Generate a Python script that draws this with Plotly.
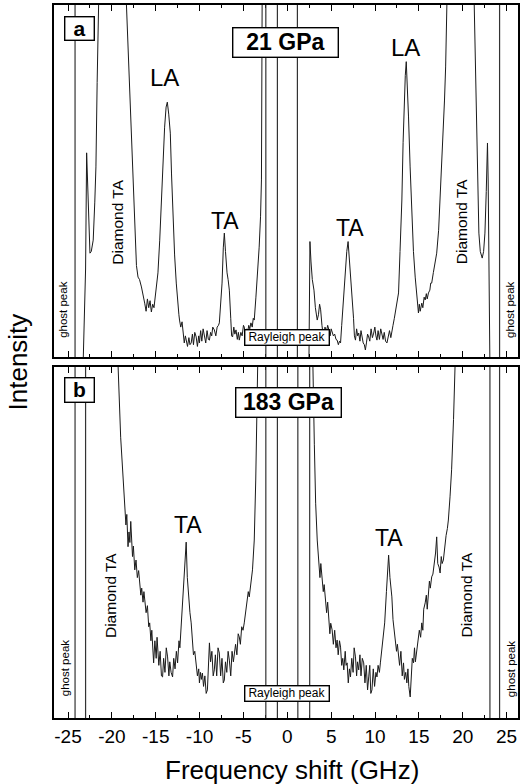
import plotly.graph_objects as go

# ---------------- data (frequency shift in GHz, intensity in arbitrary units) -------------
# panel a: 21 GPa
a_freq = [-23.26, -23.0, -22.88, -22.78, -22.70, -22.60, -22.50, -22.35, -22.13, -21.95, -21.82, -21.68, -21.56, -20.0,
          -18.34, -18.1, -17.93, -17.77, -17.6, -17.39, -17.2, -17.02, -16.85, -16.63, -16.45, -16.26, -16.1, -15.95,
          -15.8, -15.65, -15.50, -15.35, -15.20, -15.05, -14.90, -14.75, -14.55, -14.36, -14.15, -13.99, -13.82, -13.68,
          -13.52, -13.34, -13.20, -13.05, -12.85, -12.66, -12.50, -12.36, -12.29, -12.15, -12.0, -11.91, -11.75, -11.62,
          -11.53, -11.38, -11.22, -11.1, -10.96, -10.82, -10.70, -10.55, -10.39, -10.25, -10.10, -10.02, -9.88, -9.75,
          -9.6, -9.45, -9.30, -9.15, -9.0, -8.88, -8.75, -8.62, -8.50, -8.32, -8.15, -8.0, -7.85, -7.75, -7.60, -7.44,
          -7.30, -7.18, -7.05, -6.96, -6.87, -6.75, -6.61, -6.45, -6.35, -6.24, -6.1, -5.98, -5.85, -5.70, -5.58, -5.48,
          -5.30, -5.15, -5.0, -4.91, -4.75, -4.62, -4.53, -4.40, -4.28, -4.15, -4.0, -3.88, -3.77, -3.58, -3.40, -3.21,
          -3.05, -2.95, -2.87, -2.8, None,
          2.47, 2.58, 2.70, 2.85, 3.04, 3.2, 3.41, 3.55, 3.68, 3.80, 3.95, 4.05, 4.17, 4.3, 4.45, 4.60, 4.74, 4.88, 5.0,
          5.11, 5.25, 5.40, 5.55, 5.68, 5.82, 5.95, 6.07, 6.2, 6.32, 6.44, 6.60, 6.78, 6.93, 7.05, 7.20, 7.38, 7.55, 7.65,
          7.77, 7.90, 8.02, 8.14, 8.28, 8.40, 8.52, 8.65, 8.78, 8.90, 9.02, 9.15, 9.28, 9.40, 9.55, 9.70, 9.85, 9.98,
          10.10, 10.22, 10.35, 10.50, 10.65, 10.79, 10.92, 11.05, 11.20, 11.36, 11.50, 11.65, 11.80, 11.92, 12.05, 12.20,
          12.31, 12.45, 12.58, 12.68, 12.85, 13.06, 13.20, 13.33, 13.45, 13.56, 13.68, 13.82, 14.0, 14.19, 14.38, 14.58,
          14.75, 14.95, 15.05, 15.15, 15.33, 15.45, 15.60, 15.72, 15.85, 15.95, 16.09, 16.25, 16.35, 16.46, 16.65, 16.85,
          17.03, 17.25, 17.42, 17.60, 17.79, 17.92, 18.05, 18.28, 19.8, 21.31, 21.45, 21.57, 21.70, 21.84, 22.0, 22.22,
          22.38, 22.53, 22.68, 22.82, 22.90, 22.98, 23.09]
a_int = [0.0, 0.25, 0.58, 0.50, 0.446, 0.35, 0.295, 0.30, 0.332, 0.44, 0.54, 0.78, 1.0, 3.0,
         1.0, 0.84, 0.73, 0.636, 0.50, 0.352, 0.26, 0.227, 0.22, 0.199, 0.17, 0.153, 0.13, 0.165,
         0.14, 0.16, 0.128, 0.15, 0.14, 0.18, 0.20, 0.239, 0.33, 0.446, 0.57, 0.653, 0.71, 0.724,
         0.69, 0.636, 0.52, 0.398, 0.29, 0.210, 0.15, 0.12, 0.105, 0.085, 0.10, 0.077, 0.04, 0.06,
         0.048, 0.03, 0.055, 0.035, 0.040, 0.065, 0.035, 0.07, 0.057, 0.03, 0.06, 0.040, 0.075, 0.045,
         0.08, 0.057, 0.04, 0.075, 0.05, 0.048, 0.07, 0.06, 0.085, 0.077, 0.06, 0.085, 0.09, 0.097, 0.16, 0.210,
         0.31, 0.352, 0.30, 0.25, 0.239, 0.22, 0.190, 0.11, 0.06, 0.057, 0.085, 0.065, 0.077, 0.05, 0.07, 0.048,
         0.07, 0.06, 0.09, 0.085, 0.06, 0.08, 0.068, 0.09, 0.08, 0.097, 0.085, 0.11, 0.105, 0.170, 0.23, 0.312,
         0.40, 0.503, 1.0, 3.0, None,
         0.0, 0.328, 0.27, 0.22, 0.19, 0.14, 0.105, 0.12, 0.15, 0.134, 0.09, 0.07, 0.068, 0.085, 0.07, 0.09, 0.077, 0.06, 0.08,
         0.068, 0.06, 0.065, 0.05, 0.048, 0.035, 0.045, 0.040, 0.09, 0.14, 0.182, 0.25, 0.30, 0.328, 0.29, 0.23, 0.182, 0.11, 0.06,
         0.048, 0.08, 0.06, 0.068, 0.045, 0.075, 0.057, 0.04, 0.035, 0.020, 0.04, 0.065, 0.057, 0.045, 0.08, 0.055, 0.068, 0.085,
         0.06, 0.048, 0.075, 0.05, 0.08, 0.068, 0.05, 0.07, 0.045, 0.040, 0.06, 0.075, 0.055, 0.068, 0.09, 0.11,
         0.125, 0.15, 0.17, 0.182, 0.30, 0.446, 0.61, 0.730, 0.80, 0.839, 0.78, 0.682, 0.54, 0.398, 0.30, 0.227,
         0.17, 0.125, 0.15, 0.13, 0.153, 0.14, 0.17, 0.162, 0.18, 0.165, 0.182, 0.19, 0.21, 0.210, 0.24, 0.27,
         0.295, 0.36, 0.446, 0.54, 0.636, 0.73, 0.824, 1.0, 3.0, 1.0, 0.80, 0.636, 0.47, 0.352, 0.30, 0.281,
         0.30, 0.352, 0.47, 0.608, 0.50, 0.352, 0.0]

# panel b: 183 GPa
b_freq = [-19.6, -19.29, -19.0, -18.75, -18.53, -18.4, -18.3, -18.16, -18.05, -17.95, -17.85, -17.77, -17.65, -17.55,
          -17.45, -17.39, -17.25, -17.1, -16.95, -16.83, -16.7, -16.6, -16.45, -16.35, -16.26, -16.1, -15.95, -15.8,
          -15.69, -15.55, -15.45, -15.35, -15.24, -15.1, -14.95, -14.85, -14.78, -14.65, -14.5, -14.35, -14.22, -14.1,
          -13.95, -13.8, -13.65, -13.5, -13.4, -13.25, -13.08, -12.95, -12.8, -12.65, -12.51, -12.35, -12.25, -12.09,
          -11.9, -11.7, -11.53, -11.4, -11.25, -11.1, -10.96, -10.85, -10.7, -10.55, -10.39, -10.25, -10.1, -10.02,
          -9.9, -9.8, -9.68, -9.55, -9.4, -9.25, -9.11, -9.0, -8.88, -8.75, -8.6, -8.45, -8.32, -8.2, -8.05, -7.9,
          -7.75, -7.6, -7.45, -7.3, -7.18, -7.05, -6.9, -6.75, -6.61, -6.45, -6.3, -6.15, -6.04, -5.9, -5.75, -5.6,
          -5.48, -5.35, -5.2, -5.05, -4.91, -4.75, -4.6, -4.45, -4.34, -4.2, -4.1, -3.97, -3.77, -3.60, -3.38, -3.3, None,
          2.85, 2.92, 3.08, 3.23, 3.41, 3.50, 3.60, 3.72, 3.82, 3.98, 4.1, 4.2, 4.36, 4.48, 4.6, 4.74, 4.85, 4.95, 5.11,
          5.25, 5.4, 5.55, 5.68, 5.8, 5.95, 6.07, 6.2, 6.32, 6.44, 6.6, 6.7, 6.82, 6.95, 7.08, 7.20, 7.35, 7.5, 7.62,
          7.77, 7.9, 8.0, 8.14, 8.28, 8.4, 8.55, 8.71, 8.85, 9.0, 9.15, 9.28, 9.4, 9.52, 9.65, 9.8, 9.95, 10.1, 10.22,
          10.35, 10.5, 10.61, 10.75, 10.9, 11.10, 11.3, 11.55, 11.7, 11.8, 11.92, 12.05, 12.15, 12.31, 12.45, 12.55,
          12.68, 12.8, 12.95, 13.1, 13.25, 13.35, 13.5, 13.63, 13.75, 13.85, 14.01, 14.12, 14.25, 14.39, 14.5, 14.6,
          14.76, 14.9, 15.05, 15.2, 15.33, 15.45, 15.55, 15.72, 15.85, 15.95, 16.09, 16.2, 16.3, 16.46, 16.6, 16.75,
          16.9, 17.03, 17.15, 17.3, 17.42, 17.55, 17.65, 17.79, 17.95, 18.1, 18.25, 18.36, 18.55, 18.73, 18.95, 19.12, 19.2]
b_int = [3.0, 1.0, 0.80, 0.68, 0.612, 0.55, 0.58, 0.488, 0.53, 0.50, 0.56, 0.527, 0.46, 0.49,
         0.43, 0.422, 0.45, 0.40, 0.42, 0.385, 0.35, 0.37, 0.33, 0.36, 0.328, 0.30, 0.32, 0.26,
         0.271, 0.22, 0.25, 0.18, 0.157, 0.22, 0.17, 0.23, 0.202, 0.15, 0.19, 0.12, 0.117, 0.17,
         0.13, 0.20, 0.174, 0.12, 0.16, 0.13, 0.117, 0.17, 0.14, 0.19, 0.157, 0.22, 0.20, 0.271,
         0.33, 0.42, 0.501, 0.40, 0.34, 0.30, 0.271, 0.22, 0.18, 0.19, 0.157, 0.12, 0.14, 0.100,
         0.13, 0.11, 0.128, 0.09, 0.12, 0.07, 0.080, 0.15, 0.214, 0.16, 0.19, 0.12, 0.137, 0.18, 0.12, 0.20,
         0.185, 0.12, 0.17, 0.10, 0.108, 0.16, 0.13, 0.19, 0.165, 0.12, 0.19, 0.16, 0.185, 0.21, 0.18, 0.24,
         0.231, 0.21, 0.26, 0.25, 0.271, 0.30, 0.32, 0.36, 0.345, 0.37, 0.40, 0.422, 0.507, 0.678, 1.0, 3.0, None,
         3.0, 1.0, 0.78, 0.612, 0.507, 0.47, 0.459, 0.40, 0.44, 0.402, 0.36, 0.38, 0.345, 0.30, 0.33, 0.288, 0.24, 0.27, 0.251,
         0.21, 0.25, 0.20, 0.222, 0.18, 0.22, 0.202, 0.15, 0.17, 0.137, 0.19, 0.15, 0.157, 0.10, 0.14, 0.117, 0.17, 0.13, 0.20,
         0.174, 0.12, 0.16, 0.137, 0.18, 0.12, 0.17, 0.157, 0.10, 0.15, 0.08, 0.117, 0.15, 0.07, 0.080, 0.14, 0.09, 0.13, 0.117,
         0.15, 0.13, 0.157, 0.19, 0.22, 0.271, 0.36, 0.464, 0.40, 0.37, 0.345, 0.28, 0.26, 0.231, 0.19, 0.21,
         0.174, 0.15, 0.19, 0.12, 0.157, 0.11, 0.13, 0.100, 0.14, 0.09, 0.060, 0.12, 0.17, 0.157, 0.20, 0.16,
         0.194, 0.21, 0.25, 0.23, 0.271, 0.25, 0.31, 0.328, 0.35, 0.31, 0.365, 0.39, 0.37, 0.402, 0.41, 0.44,
         0.47, 0.516, 0.44, 0.43, 0.413, 0.46, 0.44, 0.450, 0.49, 0.52, 0.54, 0.564, 0.63, 0.707, 0.85, 1.0, 3.0]

# vertical marker lines (ghost peaks and Rayleigh region), GHz
a_lines = [-24.2, -2.45, -1.13, 1.15, 24.2]
b_lines = [-24.2, -23.0, -2.45, -1.13, 1.2, 2.55, 23.1, 24.2]

x_range = [-26.6, 26.3]
x_ticks = [-25, -20, -15, -10, -5, 0, 5, 10, 15, 20, 25]

FONT = "Liberation Sans, Arial, Helvetica, sans-serif"

fig = go.Figure()
fig.add_trace(go.Scatter(x=a_freq, y=a_int, xaxis="x2", yaxis="y2", mode="lines",
                         line=dict(color="#1a1a1a", width=1), connectgaps=False, hoverinfo="skip"))
fig.add_trace(go.Scatter(x=b_freq, y=b_int, xaxis="x", yaxis="y", mode="lines",
                         line=dict(color="#1a1a1a", width=1), connectgaps=False, hoverinfo="skip"))

shapes = []
for v in a_lines:
    shapes.append(dict(type="line", xref="x2", yref="y2 domain", x0=v, x1=v, y0=0, y1=1,
                       line=dict(color="#333333", width=1.2)))
for v in b_lines:
    shapes.append(dict(type="line", xref="x", yref="y domain", x0=v, x1=v, y0=0, y1=1,
                       line=dict(color="#333333", width=1.2)))

ann = []

def label(x, y, text, panel, size, angle=0, bold=False, box=None):
    xr, yr = ("x2", "y2") if panel == "a" else ("x", "y")
    t = f"<b>{text}</b>" if bold else text
    d = dict(x=x, y=y, xref=xr, yref=yr, text=t, showarrow=False, textangle=angle,
             font=dict(family=FONT, size=size, color="black"), xanchor="center", yanchor="middle")
    if box is not None:
        d.update(bgcolor="white", bordercolor="black", borderwidth=1.4, borderpad=1,
                 width=box[0], height=box[1])
    ann.append(d)

# panel a labels
label(-23.75, 0.932, "a", "a", 21, bold=True, box=(26, 20))
label(-0.2, 0.893, "21 GPa", "a", 23, bold=True, box=(102, 26))
label(-13.99, 0.793, "LA", "a", 24)
label(-7.07, 0.386, "TA", "a", 23)
label(7.12, 0.366, "TA", "a", 23)
label(13.48, 0.878, "LA", "a", 24)
label(-19.32, 0.384, "Diamond TA", "a", 15.5, angle=-90)
label(19.95, 0.384, "Diamond TA", "a", 15.5, angle=-90)
label(-25.57, 0.134, "ghost peak", "a", 11.5, angle=-90)
label(25.4, 0.134, "ghost peak", "a", 11.5, angle=-90)
label(-0.08, 0.055, "Rayleigh peak", "a", 12, box=(81, 12))

# panel b labels
label(-23.75, 0.934, "b", "b", 21, bold=True, box=(26, 21))
label(0.14, 0.899, "183 GPa", "b", 23, bold=True, box=(102, 26))
label(-11.38, 0.55, "TA", "b", 23)
label(11.55, 0.513, "TA", "b", 23)
label(-20.23, 0.350, "Diamond TA", "b", 15.5, angle=-90)
label(20.4, 0.350, "Diamond TA", "b", 15.5, angle=-90)
label(-25.34, 0.142, "ghost peak", "b", 11.5, angle=-90)
label(25.5, 0.142, "ghost peak", "b", 11.5, angle=-90)
label(0.0, 0.071, "Rayleigh peak", "b", 12, box=(81, 12))

# axis titles
ann.append(dict(x=-0.077, y=0.499, xref="paper", yref="paper", text="Intensity", showarrow=False,
                textangle=-90, font=dict(family=FONT, size=26, color="black"),
                xanchor="center", yanchor="middle"))
ann.append(dict(x=0.513, y=-0.073, xref="paper", yref="paper", text="Frequency shift (GHz)",
                showarrow=False, font=dict(family=FONT, size=26, color="black"),
                xanchor="center", yanchor="middle"))

xcommon = dict(range=x_range, showline=True, linecolor="black", linewidth=1.5, mirror="allticks",
               ticks="inside", ticklen=6, tickwidth=1.2, tickcolor="black", tickvals=x_ticks,
               minor=dict(dtick=2.5, tick0=0, ticks="inside", ticklen=3, tickwidth=1.2, tickcolor="black"),
               showgrid=False, zeroline=False, automargin=False)
ycommon = dict(range=[0, 1], showline=True, linecolor="black", linewidth=1.5, mirror=True,
               ticks="", showticklabels=False, showgrid=False, zeroline=False)

fig.update_layout(
    width=522, height=784,
    margin=dict(l=54, r=2, t=5, b=66),
    paper_bgcolor="white", plot_bgcolor="white",
    showlegend=False,
    font=dict(family=FONT, color="black"),
    xaxis=dict(**xcommon, anchor="y", domain=[0, 1],
               tickfont=dict(family=FONT, size=19, color="black"),
               ticktext=[str(t) for t in x_ticks]),
    xaxis2=dict(**xcommon, anchor="y2", domain=[0, 1], matches="x", showticklabels=False),
    yaxis=dict(**ycommon, domain=[0, 0.4923], anchor="x"),
    yaxis2=dict(**ycommon, domain=[0.5063, 1], anchor="x2"),
    shapes=shapes,
    annotations=ann,
)

fig.write_html("out.html", config={"displayModeBar": False},
               post_script="document.body.style.margin='0';document.body.style.padding='0';")
